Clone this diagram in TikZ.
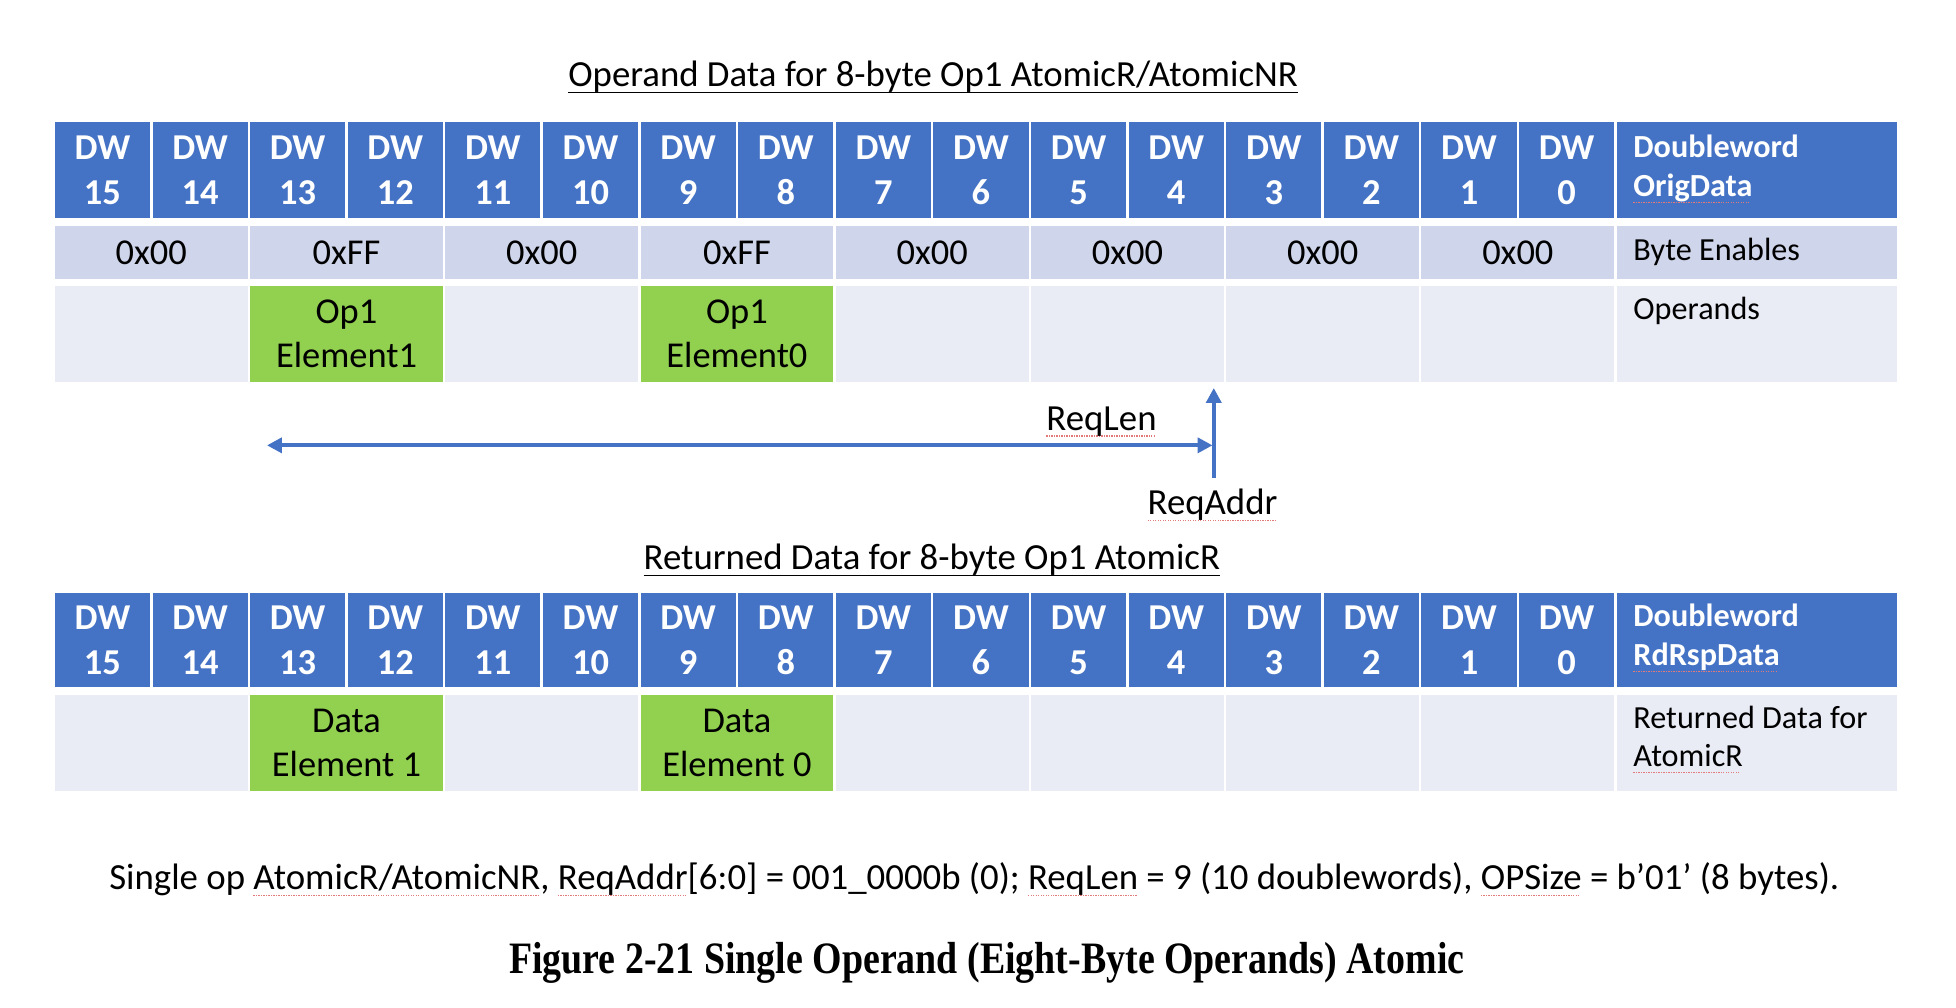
\documentclass[tikz,border=0pt]{standalone}
\usepackage{fontspec}
\setmainfont{Carlito}
\newfontfamily\capfont{Liberation Serif}
\usepackage{graphicx}
\usetikzlibrary{arrows.meta}
\definecolor{hdr}{HTML}{4472C4}
\definecolor{bec}{HTML}{CFD5EA}
\definecolor{opc}{HTML}{E9EBF5}
\definecolor{grc}{HTML}{92D050}
\definecolor{sqc}{HTML}{E27A7A}
\newsavebox\sqbox
\newcommand\sqw[1]{\sbox\sqbox{#1}\leavevmode\rlap{\textcolor{sqc}{\leaders\hbox{\rule[-2.6pt]{0.5pt}{0.5pt}\hspace{0.5pt}}\hskip\wd\sqbox}}\usebox\sqbox}
\newcommand\uln[1]{\sbox\sqbox{#1}\leavevmode\rlap{\rule[-2.6pt]{\wd\sqbox}{0.6pt}}\usebox\sqbox}
\tikzset{
  cellbase/.style={draw=white, line width=1pt, inner sep=0pt, align=center},
  hcell/.style={cellbase, fill=hdr, minimum width=39.125pt, text=white,
     font=\bfseries\fontsize{14.6}{18}\selectfont},
  lhcell/.style={cellbase, fill=hdr, minimum width=113.5pt},
  becell/.style={cellbase, fill=bec, minimum width=78.25pt, minimum height=22.5pt},
  lbecell/.style={cellbase, fill=bec, minimum width=113.5pt, minimum height=22.5pt},
  opcell/.style={cellbase, fill=opc, minimum width=78.25pt, minimum height=39.5pt},
  lopcell/.style={cellbase, fill=opc, minimum width=113.5pt, minimum height=39.5pt},
  grcell/.style={cellbase, fill=grc, minimum width=78.25pt, minimum height=39.5pt,
     font=\fontsize{14.6}{17.5}\selectfont},
  lbl/.style={anchor=west, inner sep=0pt, align=left, font=\fontsize{12.9}{15.5}\selectfont},
  lhl/.style={anchor=west, inner sep=0pt, align=left, text=white,
     font=\bfseries\fontsize{12.9}{15.5}\selectfont},
  txt/.style={inner sep=0pt, font=\fontsize{14.75}{17.5}\selectfont},
  blarrow/.style={draw=hdr, line width=1.6pt, -{Triangle[length=6pt,width=6pt]}},
  blarrows/.style={draw=hdr, line width=1.6pt, {Triangle[length=6pt,width=6pt]}-{Triangle[length=6pt,width=6pt]}}
}
\begin{document}
\begin{tikzpicture}[x=0.5pt,y=-0.5pt]
\useasboundingbox (0,0) rectangle (1568,808);
% titles
\node[txt] (t1) at (748,62) {\uln{Operand Data for 8-byte Op1 AtomicR/AtomicNR}};
\node[txt] (t2) at (747,449) {\uln{Returned Data for 8-byte Op1 AtomicR}};
% table 1 header and table 2 header
\foreach \i in {0,...,15}{
  \pgfmathtruncatemacro\n{15-\i}
  \pgfmathsetmacro\cx{43+(\i+0.5)*78.25}
  \node[hcell, minimum height=39.5pt] (ha\n) at (\cx,136.5) {DW\\\n};
  \node[hcell, minimum height=39pt] (hb\n) at (\cx,513) {DW\\\n};
}
\node[lhcell, minimum height=39.5pt] (lha) at (1408.5,136.5) {};
\node[lhl] (lhatx) at (1309,135.5) {Doubleword\\\sqw{OrigData}};
\node[lhcell, minimum height=39pt] (lhb) at (1408.5,513) {};
\node[lhl] (lhbtx) at (1309,511.5) {Doubleword\\\sqw{RdRspData}};
% byte enables
\foreach \t [count=\g from 0] in {0x00,0xFF,0x00,0xFF,0x00,0x00,0x00,0x00}{
  \node[becell, font=\fontsize{14.6}{17.5}\selectfont] (be\g) at ({43+(\g+0.5)*156.5},202.5) {\t};
}
\node[lbecell] (lbe) at (1408.5,202.5) {};
\node[lbl] (lbetx) at (1309,202) {Byte Enables};
% operands row
\node[opcell] (op0) at (121.25,267.5) {};
\node[grcell] (op1) at (277.75,267.5) {Op1\\Element1};
\node[opcell] (op2) at (434.25,267.5) {};
\node[grcell] (op3) at (590.75,267.5) {Op1\\Element0};
\node[opcell] (op4) at (747.25,267.5) {};
\node[opcell] (op5) at (903.75,267.5) {};
\node[opcell] (op6) at (1060.25,267.5) {};
\node[opcell] (op7) at (1216.75,267.5) {};
\node[lopcell] (lop) at (1408.5,267.5) {};
\node[lbl] (loptx) at (1309,249) {Operands};
% returned data row
\node[opcell] (rd0) at (121.25,595.5) {};
\node[grcell] (rd1) at (277.75,595.5) {Data\\Element 1};
\node[opcell] (rd2) at (434.25,595.5) {};
\node[grcell] (rd3) at (590.75,595.5) {Data\\Element 0};
\node[opcell] (rd4) at (747.25,595.5) {};
\node[opcell] (rd5) at (903.75,595.5) {};
\node[opcell] (rd6) at (1060.25,595.5) {};
\node[opcell] (rd7) at (1216.75,595.5) {};
\node[lopcell] (lrd) at (1408.5,595.5) {};
\node[lbl, font=\fontsize{12.9}{15}\selectfont] (lrdtx) at (1309,593) {Returned Data for\\\sqw{AtomicR}};
% arrows
\coordinate (raB) at (973,383);
\coordinate (raT) at (973,311);
\coordinate (rlL) at (214,357);
\coordinate (rlR) at (972,357);
\draw[blarrow] (raB) -- (raT);
\draw[blarrows] (rlL) -- (rlR);
\node[txt] (rl) at (883,338) {\sqw{ReqLen}};
\node[txt] (ra) at (972,405) {\sqw{ReqAddr}};
% footnote
\node[txt] (fn) at (781,705) {Single op \sqw{AtomicR/AtomicNR}, \sqw{ReqAddr}[6:0] = 001\_0000b (0); \sqw{ReqLen} = 9 (10 doublewords), \sqw{OPSize} = b’01’ (8 bytes).};
% caption
\node[inner sep=0pt] (cap) at (791,772) {\scalebox{0.844}[1]{\capfont\bfseries\fontsize{18}{21}\selectfont Figure 2-21 Single Operand (Eight-Byte Operands) Atomic}};
\end{tikzpicture}
\end{document}
